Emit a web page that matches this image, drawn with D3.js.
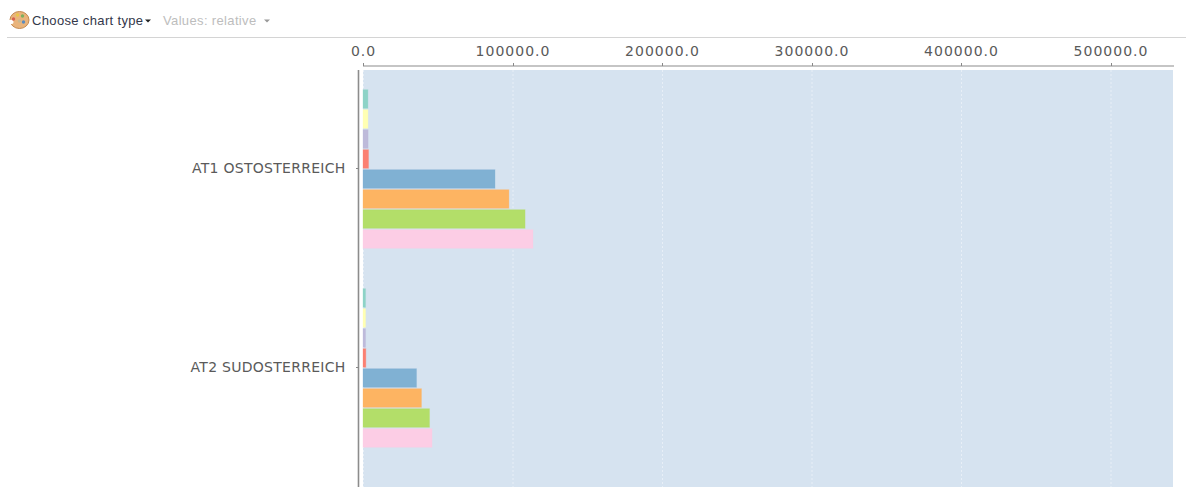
<!DOCTYPE html>
<html>
<head>
<meta charset="utf-8">
<script src="https://cdnjs.cloudflare.com/ajax/libs/d3/7.8.5/d3.min.js"></script>
<style>
html, body { margin: 0; padding: 0; background: #fff; overflow: hidden; }
svg { display: block; }
.tb { font-family: "Liberation Sans", Arial, sans-serif; font-size: 13px; letter-spacing: 0.35px; }
.axis text { font-family: "DejaVu Sans", sans-serif; font-size: 14px; fill: #5a5a5a; }
.axis.top text { letter-spacing: 1px; }
.axis.side text { letter-spacing: 0.27px; }
.axis path, .axis line { stroke: #888; shape-rendering: crispEdges; }
.axis .domain { stroke-width: 1.6; stroke: #8c8c8c; shape-rendering: auto; }
.axis.top .domain { stroke-width: 1.2; }
</style>
</head>
<body>
<div id="chart"></div>
<script>
var categories = ['AT1 OSTOSTERREICH', 'AT2 SUDOSTERREICH'];
var seriesNames = ['s1', 's2', 's3', 's4', 's5', 's6', 's7', 's8'];
var seriesColors = ['#8dd3c7', '#ffffb3', '#bebada', '#fb8072', '#80b1d3', '#fdb462', '#b3de69', '#fccde5'];
var at1Values = [3300, 3300, 3400, 3700, 88300, 97600, 108400, 113700];
var at2Values = [1700, 1700, 1700, 1900, 35800, 39100, 44500, 46200];
var xTicks = [0, 100000, 200000, 300000, 400000, 500000];

var width = 1189, height = 487;
var left = 363, right = 1173, plotTop = 70;

var svg = d3.select('#chart').append('svg')
	.attr('width', width)
	.attr('height', height);

// toolbar
var tb = svg.append('g').classed('tb', true);
tb.append('line')
	.attr('x1', 7).attr('x2', 1186)
	.attr('y1', 37.5).attr('y2', 37.5)
	.attr('stroke', '#d4d4d4');

var palette = tb.append('g').attr('transform', 'translate(19.5,20)');
palette.append('ellipse')
	.attr('rx', 9.5).attr('ry', 8.5)
	.attr('fill', '#e9b47c').attr('stroke', '#c48a50');
palette.append('ellipse')
	.attr('cx', -9).attr('cy', 2).attr('rx', 3).attr('ry', 2.2)
	.attr('fill', '#fff');
[[-6, -1, '#d8604f'], [-2, -5, '#e8c64a'], [3, -4, '#7cb060'], [4, 2, '#5a8cc0'], [0, 1, '#c8b890']].forEach(function(d) {
	palette.append('circle')
		.attr('cx', d[0]).attr('cy', d[1]).attr('r', 1.7)
		.attr('fill', d[2]);
});

tb.append('text').attr('x', 32).attr('y', 25).attr('fill', '#33384a').text('Choose chart type');
tb.append('path').attr('d', 'M145,19.5h6l-3,3z').attr('fill', '#222');
tb.append('text').attr('x', 163).attr('y', 25).attr('fill', '#bdbdbd').text('Values: relative');
tb.append('path').attr('d', 'M264,19.5h6l-3,3z').attr('fill', '#999');

// scales
var x = d3.scaleLinear().domain([0, 500000]).range([left, 1110.5]);
var y = d3.scaleBand().domain(categories).range([69, 467]);
var inner = d3.scaleBand().domain(seriesNames).range([0, 160]).paddingInner(0.07).paddingOuter(0.035);

// plot background and grid
svg.append('rect')
	.attr('x', left).attr('y', plotTop)
	.attr('width', right - left).attr('height', height - plotTop)
	.attr('fill', '#d6e3f0');

svg.append('g').selectAll('line')
	.data(xTicks)
	.join('line')
	.attr('x1', function(d) {return x(d) + 0.5;})
	.attr('x2', function(d) {return x(d) + 0.5;})
	.attr('y1', plotTop).attr('y2', height)
	.attr('stroke', '#e8eff7')
	.attr('stroke-dasharray', '2,2');

// bars
var rows = [at1Values, at2Values];
var groups = svg.append('g').selectAll('g')
	.data(categories)
	.join('g')
	.attr('transform', function(d) {return 'translate(0,' + (y(d) + y.bandwidth() / 2 - 79.5) + ')';});

groups.selectAll('rect')
	.data(function(d, i) {return rows[i].map(function(v, j) {return {name: seriesNames[j], value: v, color: seriesColors[j]};});})
	.join('rect')
	.attr('x', x(0))
	.attr('y', function(d) {return inner(d.name);})
	.attr('width', function(d) {return x(d.value) - x(0);})
	.attr('height', inner.bandwidth())
	.attr('fill', function(d) {return d.color;})
	.attr('stroke', function(d) {return d.color;})
	.attr('stroke-opacity', 0.3);

// axes
var xAxis = d3.axisTop(x)
	.tickValues(xTicks)
	.tickFormat(d3.format('.1f'))
	.tickSizeInner(3)
	.tickSizeOuter(0)
	.tickPadding(7);
svg.append('g')
	.classed('axis', true)
	.classed('top', true)
	.attr('transform', 'translate(0,65.5)')
	.call(xAxis)
	.select('.domain').attr('d', 'M' + left + ',0.5H1174');

var yAxis = d3.axisLeft(y)
	.tickSizeInner(3)
	.tickSizeOuter(0)
	.tickPadding(10);
svg.append('g')
	.classed('axis', true)
	.classed('side', true)
	.attr('transform', 'translate(358.5,0)')
	.call(yAxis)
	.select('.domain').attr('d', 'M0,' + plotTop + 'V' + height);
</script>
</body>
</html>
